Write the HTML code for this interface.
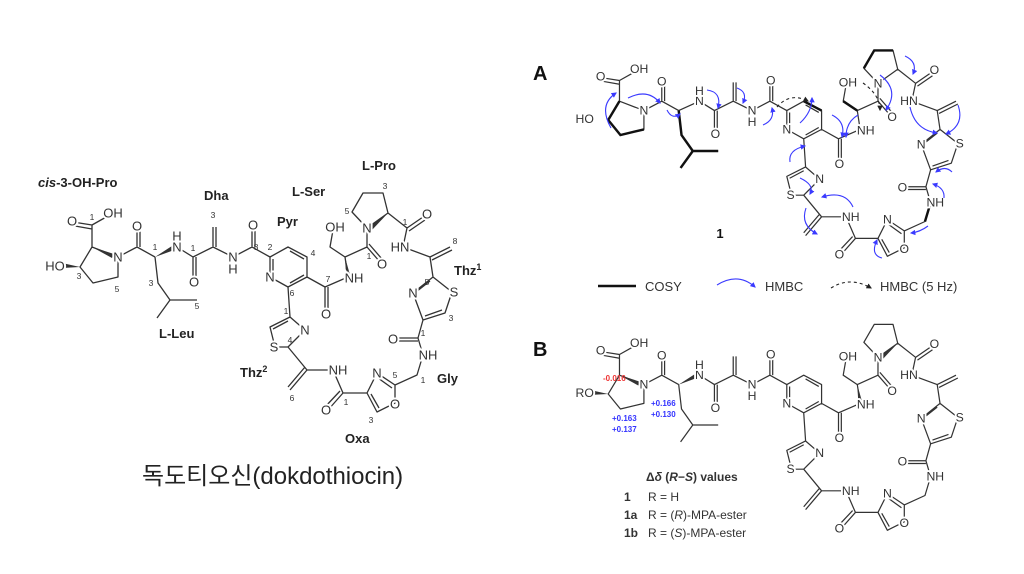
<!DOCTYPE html>
<html><head><meta charset="utf-8"><style>
html,body{margin:0;padding:0;background:#fff}
svg{display:block}
.b{fill:none;stroke:#333;stroke-width:1.3;stroke-linejoin:round}
.t{font-family:"Liberation Sans",Arial,sans-serif;font-size:13px;fill:#333;text-anchor:middle;dominant-baseline:central;paint-order:stroke;stroke:#fff;stroke-width:4px}
.n{font-family:"Liberation Sans",Arial,sans-serif;font-size:8.5px;fill:#333;text-anchor:middle;dominant-baseline:central}
.lb{font-family:"Liberation Sans",Arial,sans-serif;font-size:13px;font-weight:bold;fill:#222}
.bl{fill:none;stroke:#3a3aff;stroke-width:1.1}
</style></head><body>
<svg width="1024" height="574" viewBox="0 0 1024 574" xmlns="http://www.w3.org/2000/svg">
<defs>
<marker id="ah" viewBox="0 0 10 10" refX="8" refY="5" markerWidth="5" markerHeight="5" orient="auto"><path d="M0,0L10,5L0,10z" fill="#3a3aff"/></marker>
<marker id="ak" viewBox="0 0 10 10" refX="8" refY="5" markerWidth="5" markerHeight="5" orient="auto"><path d="M0,0L10,5L0,10z" fill="#222"/></marker>
</defs>

<!-- LEFT molecule -->
<g id="L">
<path class="b" d="M80,267L92,247L118,257L118,277L93,283Z M92,247L92,225 M92,225L73,222 M92,229L75,226 M92,225L108,216
M118,257L137,247L155,257 M137,247L137,228 M140,247L140,228
M155,257L158,283L170,300L197,300 M170,300L157,318
M177,247L193,257L213,247L233,257L252,247L270,257
M193,257L193,280 M196,257L196,280 M213,247L213,227 M216,247L216,227 M252,247L252,227 M255,247L255,227
M270,257L288,247L307,257L307,277L288,287L270,277Z M290,251L304,259 M304,275L290,283 M273,259L273,275
M307,277L325,287L348,277 M325,287L325,312 M328,287L328,312
M348,277L345,257 M345,257L330,247L333,230 M345,257L367,247L367,228 M367,247L380,262 M369,244L382,259
M367,228L352,212L363,193L383,193L388,213Z M388,213L407,228L403,247 M407,228L423,217 M409,231L425,220
M403,247L430,257L450,247 M432,260L452,250 M430,257L433,277
M433,277L413,293L423,320L445,313L452,292Z M430,281L416,292 M425,316L442,310
M423,320L418,338L395,338 M418,341L395,341 M418,338L423,355L417,375L395,385
M395,385L377,373L367,393L377,412L395,403Z M392,388L378,378 M371,394L379,408
M367,393L343,393L333,370 M343,393L328,410 M340,391L325,407
M333,370L307,370L290,390 M305,367L288,387 M307,370L288,347
M288,347L305,330L290,317L270,327L275,347Z M291,344L302,333 M288,321L273,329 M290,317L288,287"/>
<polygon points="80,267 62,263 62,268" fill="#333"/>
<polygon points="155,257 175,244 177,249" fill="#333"/>
<polygon points="345,257 346,275 350,275" fill="#333"/>
<polygon points="388,213 370,226 372,230" fill="#333"/>
<polygon points="92,247 114,254 112,258" fill="#333"/>
<text class="t" x="55" y="266">HO</text><text class="t" x="72" y="221">O</text><text class="t" x="113" y="213">OH</text>
<text class="t" x="118" y="257">N</text><text class="t" x="137" y="226">O</text>
<text class="t" x="177" y="247">N</text><text class="t" x="177" y="236">H</text>
<text class="t" x="194" y="282">O</text><text class="t" x="233" y="257">N</text><text class="t" x="233" y="269">H</text>
<text class="t" x="253" y="225">O</text><text class="t" x="270" y="277">N</text>
<text class="t" x="326" y="314">O</text><text class="t" x="354" y="278">NH</text>
<text class="t" x="335" y="227">OH</text><text class="t" x="382" y="264">O</text><text class="t" x="367" y="228">N</text>
<text class="t" x="427" y="214">O</text><text class="t" x="400" y="247">HN</text>
<text class="t" x="413" y="293">N</text><text class="t" x="454" y="292">S</text>
<text class="t" x="393" y="339">O</text><text class="t" x="428" y="355">NH</text>
<text class="t" x="377" y="373">N</text><text class="t" x="395" y="404">O</text>
<text class="t" x="326" y="410">O</text><text class="t" x="338" y="370">NH</text>
<text class="t" x="305" y="330">N</text><text class="t" x="274" y="347">S</text>
</g>
<g>
<text class="n" x="92" y="217">1</text><text class="n" x="79" y="276">3</text><text class="n" x="117" y="289">5</text>
<text class="n" x="155" y="247">1</text><text class="n" x="151" y="283">3</text><text class="n" x="197" y="306">5</text>
<text class="n" x="193" y="248">1</text><text class="n" x="213" y="215">3</text><text class="n" x="256" y="247">8</text>
<text class="n" x="270" y="247">2</text><text class="n" x="313" y="253">4</text><text class="n" x="292" y="293">6</text>
<text class="n" x="328" y="279">7</text><text class="n" x="369" y="256">1</text><text class="n" x="347" y="211">5</text>
<text class="n" x="385" y="186">3</text><text class="n" x="405" y="222">1</text><text class="n" x="455" y="241">8</text>
<text class="n" x="427" y="282">5</text><text class="n" x="451" y="318">3</text><text class="n" x="423" y="333">1</text>
<text class="n" x="423" y="380">1</text><text class="n" x="395" y="375">5</text><text class="n" x="371" y="420">3</text>
<text class="n" x="346" y="402">1</text><text class="n" x="292" y="398">6</text><text class="n" x="290" y="340">4</text><text class="n" x="286" y="311">1</text>
</g>
<text class="lb" x="38" y="187"><tspan font-style="italic">cis</tspan>-3-OH-Pro</text>
<text class="lb" x="204" y="200">Dha</text><text class="lb" x="277" y="226">Pyr</text>
<text class="lb" x="292" y="196">L-Ser</text><text class="lb" x="362" y="170">L-Pro</text>
<text class="lb" x="454" y="275">Thz<tspan font-size="9" dy="-5">1</tspan></text>
<text class="lb" x="159" y="338">L-Leu</text>
<text class="lb" x="240" y="377">Thz<tspan font-size="9" dy="-5">2</tspan></text>
<text class="lb" x="437" y="383">Gly</text><text class="lb" x="345" y="443">Oxa</text>
<text x="142" y="484" font-family="'Liberation Sans','Noto Sans CJK KR',sans-serif" font-size="24" fill="#222">독도티오신(dokdothiocin)</text>

<!-- A -->
<text x="533" y="80" font-family="Liberation Sans,sans-serif" font-size="20" font-weight="bold" fill="#111">A</text>
<g transform="translate(533,-131) scale(0.94)">
<path class="b" d="M80,267L92,247L118,257L118,277L93,283Z M92,247L92,225 M92,225L73,222 M92,229L75,226 M92,225L108,216
M118,257L137,247L155,257 M137,247L137,228 M140,247L140,228
M155,257L158,283L170,300L197,300 M170,300L157,318 M155,257L177,247
M177,247L193,257L213,247L233,257L252,247L270,257
M193,257L193,280 M196,257L196,280 M213,247L213,227 M216,247L216,227 M252,247L252,227 M255,247L255,227
M270,257L288,247L307,257L307,277L288,287L270,277Z M290,251L304,259 M304,275L290,283 M273,259L273,275
M307,277L325,287L348,277 M325,287L325,312 M328,287L328,312
M348,277L345,257 M345,257L330,247L333,230 M345,257L367,247L367,228 M367,247L380,262 M369,244L382,259
M367,228L352,212L363,193L383,193L388,213Z M388,213L407,228L403,247 M407,228L423,217 M409,231L425,220
M403,247L430,257L450,247 M432,260L452,250 M430,257L433,277
M433,277L413,293L423,320L445,313L452,292Z M430,281L416,292 M425,316L442,310
M423,320L418,338L395,338 M418,341L395,341 M418,338L423,355L417,375L395,385
M395,385L377,373L367,393L377,412L395,403Z M392,388L378,378 M371,394L379,408
M367,393L343,393L333,370 M343,393L328,410 M340,391L325,407
M333,370L307,370L290,390 M305,367L288,387 M307,370L288,347
M288,347L305,330L290,317L270,327L275,347Z M291,344L302,333 M288,321L273,329 M290,317L288,287"/>
<path d="M80,267L92,247 M118,277L93,283L80,267 M155,257L158,283L170,300L197,300 M170,300L157,318 M288,247L307,257 M345,257L330,247 M352,212L363,193L383,193 M417,375L423,355" fill="none" stroke="#111" stroke-width="2.6"/>
<text class="t" x="55" y="266">HO</text><text class="t" x="72" y="221">O</text><text class="t" x="113" y="213">OH</text>
<text class="t" x="118" y="257">N</text><text class="t" x="137" y="226">O</text>
<text class="t" x="177" y="247">N</text><text class="t" x="177" y="236">H</text>
<text class="t" x="194" y="282">O</text><text class="t" x="233" y="257">N</text><text class="t" x="233" y="269">H</text>
<text class="t" x="253" y="225">O</text><text class="t" x="270" y="277">N</text>
<text class="t" x="326" y="314">O</text><text class="t" x="354" y="278">NH</text>
<text class="t" x="335" y="227">OH</text><text class="t" x="382" y="264">O</text><text class="t" x="367" y="228">N</text>
<text class="t" x="427" y="214">O</text><text class="t" x="400" y="247">HN</text>
<text class="t" x="413" y="293">N</text><text class="t" x="454" y="292">S</text>
<text class="t" x="393" y="339">O</text><text class="t" x="428" y="355">NH</text>
<text class="t" x="377" y="373">N</text><text class="t" x="395" y="404">O</text>
<text class="t" x="326" y="410">O</text><text class="t" x="338" y="370">NH</text>
<text class="t" x="305" y="330">N</text><text class="t" x="274" y="347">S</text>
</g>
<g class="bl" marker-end="url(#ah)">
<path d="M611,128Q598,105 616,93"/><path d="M628,98Q648,88 660,103"/><path d="M667,110Q672,120 680,114"/>
<path d="M707,90Q722,92 718,108"/><path d="M737,88Q748,92 743,103"/><path d="M763,125Q775,120 772,108"/>
<path d="M800,123Q812,112 812,98"/><path d="M832,115Q846,122 842,137"/><path d="M858,115Q846,122 846,137"/>
<path d="M905,56Q918,62 913,74"/><path d="M910,107Q915,130 937,133"/><path d="M958,105Q965,125 946,134"/>
<path d="M790,162Q788,150 805,146"/><path d="M800,178Q815,185 810,194"/><path d="M853,207Q845,190 822,197"/>
<path d="M806,208Q800,225 817,234"/><path d="M882,258Q870,255 877,240"/><path d="M928,226Q920,232 911,233"/>
<path d="M944,198Q945,188 933,184"/><path d="M952,172Q945,165 936,172"/><path d="M880,75Q900,90 886,110"/>
</g>
<path d="M777,107Q790,92 808,101" fill="none" stroke="#222" stroke-width="1.1" stroke-dasharray="3,3" marker-end="url(#ak)"/>
<path d="M863,83Q880,95 880,110" fill="none" stroke="#222" stroke-width="1.1" stroke-dasharray="3,3" marker-end="url(#ak)"/>
<text x="720" y="238" font-family="Liberation Sans,sans-serif" font-size="13" font-weight="bold" fill="#111" text-anchor="middle">1</text>
<line x1="598" y1="286" x2="636" y2="286" stroke="#111" stroke-width="2.4"/>
<text x="645" y="291" font-family="Liberation Sans,sans-serif" font-size="13" fill="#333">COSY</text>
<path class="bl" d="M717,285Q738,272 755,287" marker-end="url(#ah)"/>
<text x="765" y="291" font-family="Liberation Sans,sans-serif" font-size="13" fill="#333">HMBC</text>
<path d="M831,288Q850,276 871,288" fill="none" stroke="#222" stroke-width="1.1" stroke-dasharray="3,3" marker-end="url(#ak)"/>
<text x="880" y="291" font-family="Liberation Sans,sans-serif" font-size="13" fill="#333">HMBC (5 Hz)</text>

<!-- B -->
<text x="533" y="356" font-family="Liberation Sans,sans-serif" font-size="20" font-weight="bold" fill="#111">B</text>
<g transform="translate(533,143) scale(0.94)">
<path class="b" d="M80,267L92,247L118,257L118,277L93,283Z M92,247L92,225 M92,225L73,222 M92,229L75,226 M92,225L108,216
M118,257L137,247L155,257 M137,247L137,228 M140,247L140,228
M155,257L158,283L170,300L197,300 M170,300L157,318
M177,247L193,257L213,247L233,257L252,247L270,257
M193,257L193,280 M196,257L196,280 M213,247L213,227 M216,247L216,227 M252,247L252,227 M255,247L255,227
M270,257L288,247L307,257L307,277L288,287L270,277Z M290,251L304,259 M304,275L290,283 M273,259L273,275
M307,277L325,287L348,277 M325,287L325,312 M328,287L328,312
M348,277L345,257 M345,257L330,247L333,230 M345,257L367,247L367,228 M367,247L380,262 M369,244L382,259
M367,228L352,212L363,193L383,193L388,213Z M388,213L407,228L403,247 M407,228L423,217 M409,231L425,220
M403,247L430,257L450,247 M432,260L452,250 M430,257L433,277
M433,277L413,293L423,320L445,313L452,292Z M430,281L416,292 M425,316L442,310
M423,320L418,338L395,338 M418,341L395,341 M418,338L423,355L417,375L395,385
M395,385L377,373L367,393L377,412L395,403Z M392,388L378,378 M371,394L379,408
M367,393L343,393L333,370 M343,393L328,410 M340,391L325,407
M333,370L307,370L290,390 M305,367L288,387 M307,370L288,347
M288,347L305,330L290,317L270,327L275,347Z M291,344L302,333 M288,321L273,329 M290,317L288,287"/>
<polygon points="80,267 62,263 62,268" fill="#333"/>
<polygon points="155,257 175,244 177,249" fill="#333"/>
<polygon points="345,257 346,275 350,275" fill="#333"/>
<polygon points="388,213 370,226 372,230" fill="#333"/>
<polygon points="92,247 114,254 112,258" fill="#333"/>
<text class="t" x="55" y="266">RO</text><text class="t" x="72" y="221">O</text><text class="t" x="113" y="213">OH</text>
<text class="t" x="118" y="257">N</text><text class="t" x="137" y="226">O</text>
<text class="t" x="177" y="247">N</text><text class="t" x="177" y="236">H</text>
<text class="t" x="194" y="282">O</text><text class="t" x="233" y="257">N</text><text class="t" x="233" y="269">H</text>
<text class="t" x="253" y="225">O</text><text class="t" x="270" y="277">N</text>
<text class="t" x="326" y="314">O</text><text class="t" x="354" y="278">NH</text>
<text class="t" x="335" y="227">OH</text><text class="t" x="382" y="264">O</text><text class="t" x="367" y="228">N</text>
<text class="t" x="427" y="214">O</text><text class="t" x="400" y="247">HN</text>
<text class="t" x="413" y="293">N</text><text class="t" x="454" y="292">S</text>
<text class="t" x="393" y="339">O</text><text class="t" x="428" y="355">NH</text>
<text class="t" x="377" y="373">N</text><text class="t" x="395" y="404">O</text>
<text class="t" x="326" y="410">O</text><text class="t" x="338" y="370">NH</text>
<text class="t" x="305" y="330">N</text><text class="t" x="274" y="347">S</text>
</g>
<g font-family="Liberation Sans,sans-serif" font-size="8" font-weight="bold">
<text x="603" y="381" fill="#e33">-0.016</text>
<text x="651" y="406" fill="#33f">+0.166</text><text x="651" y="417" fill="#33f">+0.130</text>
<text x="612" y="421" fill="#33f">+0.163</text><text x="612" y="432" fill="#33f">+0.137</text>
</g>
<g font-family="Liberation Sans,sans-serif" font-size="12" fill="#333">
<text x="646" y="481" font-weight="bold">Δ<tspan font-style="italic">δ</tspan> (<tspan font-style="italic">R</tspan>−<tspan font-style="italic">S</tspan>) values</text>
<text x="624" y="501"><tspan font-weight="bold">1</tspan><tspan x="648">R = H</tspan></text>
<text x="624" y="519"><tspan font-weight="bold">1a</tspan><tspan x="648">R = (<tspan font-style="italic">R</tspan>)-MPA-ester</tspan></text>
<text x="624" y="537"><tspan font-weight="bold">1b</tspan><tspan x="648">R = (<tspan font-style="italic">S</tspan>)-MPA-ester</tspan></text>
</g>
</svg>
</body></html>
